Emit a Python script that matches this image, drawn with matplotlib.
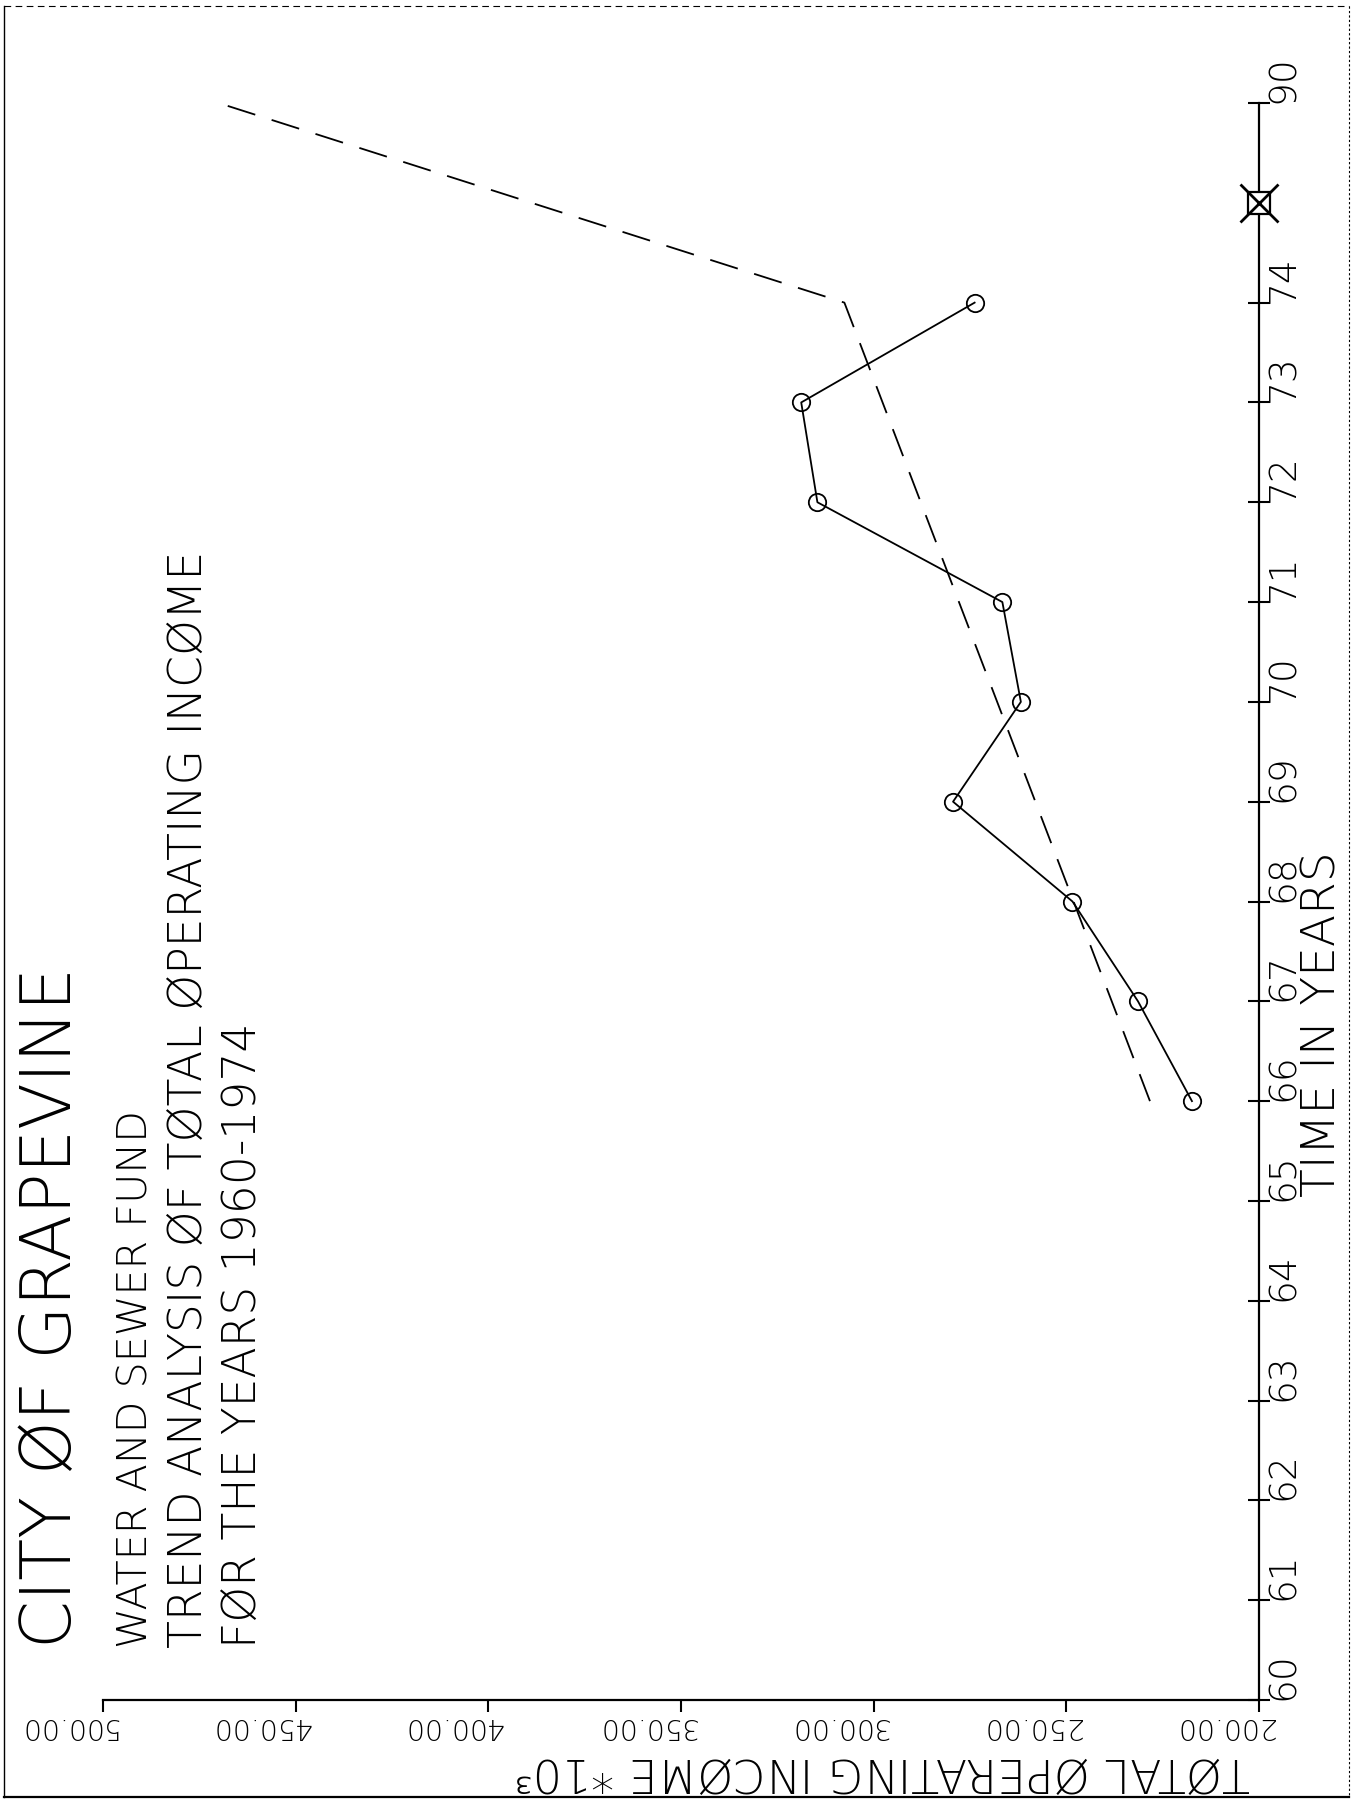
import numpy as np
import matplotlib
matplotlib.use("Agg")
import matplotlib.pyplot as plt
from matplotlib import transforms
from matplotlib.lines import Line2D
from matplotlib.ticker import NullLocator

# ---------------- data ----------------
years_actual = [66, 67, 68, 69, 70, 71, 72, 73, 74]
income_actual = [217.4, 231.4, 248.4, 279.4, 261.8, 266.6, 314.6, 318.8, 273.8]

trend_years = [66, 74, 90]
trend_income = [228.3, 307.6, 470.0]

time_ticks = [60, 61, 62, 63, 64, 65, 66, 67, 68, 69, 70, 71, 72, 73, 74, 90]
time_tick_labels = ["60", "61", "62", "63", "64", "65", "66", "67", "68",
                    "69", "70", "71", "72", "73", "74", "90"]
income_ticks = [200, 250, 300, 350, 400, 450, 500]
income_tick_labels = ["200.00", "250.00", "300.00", "350.00",
                      "400.00", "450.00", "500.00"]
axis_break_year = 82          # break symbol between 74 and 90

title_lines = ["CITY ØF GRAPEVINE",
               "WATER AND SEWER FUND",
               "TREND ANALYSIS ØF TØTAL ØPERATING INCØME",
               "FØR THE YEARS 1960-1974"]
x_title = "TIME IN YEARS"
y_title = "TØTAL ØPERATING INCØME *10³"

# ---------------- figure ----------------
W, H, DPI = 1353, 1803, 100
FONT = ["DejaVu Sans"]
plt.rcParams["font.family"] = FONT
plt.rcParams["font.weight"] = 200

fig = plt.figure(figsize=(W / DPI, H / DPI), dpi=DPI)
fig.patch.set_facecolor("white")


def fx(px):
    return px / W


def fy(py):
    return 1 - py / H


ax = fig.add_axes([fx(103), fy(1700), fx(1259) - fx(103), fy(103) - fy(1700)])
ax.set_facecolor("none")


# broken time axis: 74 -> 90 compressed into 2 units
def fwd(y):
    y = np.asarray(y, dtype=float)
    return np.where(y <= 74, y, 74 + (y - 74) * 2.0 / 16.0)


def inv(p):
    p = np.asarray(p, dtype=float)
    return np.where(p <= 74, p, 74 + (p - 74) * 16.0 / 2.0)


ax.set_yscale("function", functions=(fwd, inv))
ax.set_ylim(60, 90)
ax.set_xlim(500, 200)

LW = 1.3
ax.plot(income_actual, years_actual, "-", color="black", lw=LW,
        marker="o", ms=12.5, mfc="none", mec="black", mew=1.3)
ax.plot(trend_income, trend_years, color="black", lw=LW,
        dashes=(16, 9.5))

# axis break symbol on the time axis
ax.plot([200], [axis_break_year], marker="s", ms=16, mfc="white",
        mec="black", mew=1.6, clip_on=False, zorder=5)
ax.plot([200], [axis_break_year], marker="x", ms=28, mec="black",
        mew=2.0, clip_on=False, zorder=6)

for s in ["left", "top"]:
    ax.spines[s].set_visible(False)
for s in ["right", "bottom"]:
    ax.spines[s].set_linewidth(1.6)

ax.yaxis.set_ticks_position("right")
ax.set_yticks(time_ticks, time_tick_labels, rotation=90, va="bottom",
              ha="left", fontsize=27)
ax.yaxis.set_minor_locator(NullLocator())
ax.tick_params(axis="y", which="major", direction="inout", length=16,
               width=1.5, pad=-3)

ax.set_xticks(income_ticks, income_tick_labels, rotation=180, va="top",
              ha="center", fontsize=20.5)
ax.xaxis.set_minor_locator(NullLocator())
ax.tick_params(axis="x", which="major", direction="out", length=8.6,
               width=1.5, pad=0)
off = transforms.ScaledTranslation(-35 / DPI, 0, fig.dpi_scale_trans)
for lab in ax.get_xticklabels():
    lab.set_transform(lab.get_transform() + off)

renderer = fig.canvas.get_renderer()


def fit(t, target, along="h"):
    for _ in range(3):
        bb = t.get_window_extent(renderer)
        cur = bb.height if along == "h" else bb.width
        t.set_fontsize(t.get_fontsize() * target / cur)


# axis titles (anchored at start of baseline)
t = fig.text(fx(1335), fy(1197), x_title, rotation=90, ha="left",
             va="baseline", rotation_mode="anchor", fontsize=30)
fit(t, 346, "h")
fig.text(fx(1250), fy(1758), y_title, rotation=180, ha="left",
         va="baseline", rotation_mode="anchor", fontsize=33)

# title block
specs = [(71, 682), (147, 538), (202, 1095), (256, 624)]
for (xb, length), line in zip(specs, title_lines):
    t = fig.text(fx(xb), fy(1648), line, rotation=90, ha="left",
                 va="baseline", rotation_mode="anchor", fontsize=30)
    fit(t, length, "h")

# page border
fig.add_artist(Line2D([fx(4), fx(1349)], [fy(6), fy(6)], color="black",
                      lw=0.8, dashes=(6, 4), transform=fig.transFigure))
fig.add_artist(Line2D([fx(4), fx(4)], [fy(6), fy(1797)], color="black",
                      lw=1.0, transform=fig.transFigure))
fig.add_artist(Line2D([fx(1349), fx(1349)], [fy(6), fy(1797)], color="black",
                      lw=0.8, dashes=(2, 2), transform=fig.transFigure))
fig.add_artist(Line2D([fx(4), fx(1349)], [fy(1797), fy(1797)], color="black",
                      lw=1.6, transform=fig.transFigure))

fig.savefig("out.png", dpi=DPI, facecolor="white")
